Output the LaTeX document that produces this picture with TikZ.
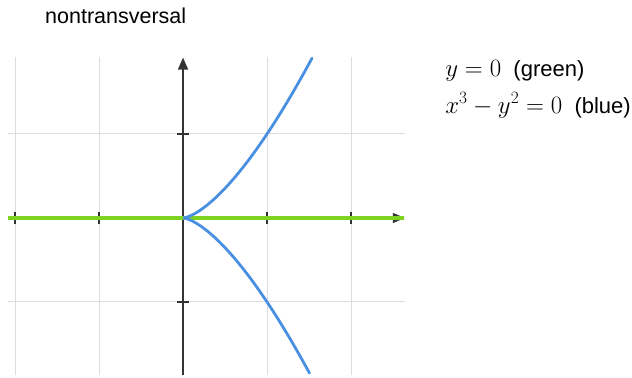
\documentclass[tikz,border=0pt]{standalone}
\usepackage{fontspec}
\setmainfont{Liberation Sans}
\usepackage{amsmath}
\usetikzlibrary{arrows.meta}
\definecolor{gridc}{RGB}{221,221,221}
\definecolor{axisc}{RGB}{51,51,51}
\definecolor{cuspc}{RGB}{74,144,226}
\definecolor{linec}{RGB}{126,211,33}
\newcommand{\eqmath}[1]{{\fontsize{24}{29}\selectfont$#1$}}
\tikzset{
  gridline/.style = {draw=gridc, line width=1pt},
  axis/.style     = {draw=axisc, line width=1.5pt, -{Triangle[length=12pt, width=10pt]}},
  tick/.style     = {draw=axisc, line width=1.5pt},
  cusp/.style     = {draw=cuspc, line width=2.8pt, line cap=round},
  flat/.style     = {draw=linec, line width=3.5pt},
  ttl/.style      = {font=\fontsize{21.5}{26}\selectfont, inner sep=0pt},
  lbl/.style      = {font=\fontsize{22}{27}\selectfont, inner sep=0pt},
}
\begin{document}
\begin{tikzpicture}[x=84pt, y=84pt]
\useasboundingbox (-2.179,-1.905) rectangle (5.345,2.595);

% grid, one unit = one cell
\foreach \gx in {-2,-1,1,2}
  \draw[gridline] (\gx,-1.87) -- (\gx,1.92);
\foreach \gy in {-1,1}
  \draw[gridline] (-2.08,\gy) -- (2.64,\gy);

% axes and ticks
\draw[axis] (0,-1.87) -- (0,1.91);
\draw[axis] (-2.08,0) -- (2.64,0);
\foreach \gx in {-2,-1,1,2}
  \draw[tick] (\gx,-0.07) -- (\gx,0.07);
\foreach \gy in {-1,1}
  \draw[tick] (-0.07,\gy) -- (0.07,\gy);

% the two curves
\draw[flat] (-2.08,0) -- (2.63,0);
\draw[cusp] plot[domain=-1.227:1.24, samples=120, smooth, variable=\t] ({\t*\t},{\t*\t*\t});

% texts
\node[ttl, anchor=base west] (title) at (-1.643,2.321) {nontransversal};
\node[lbl, anchor=base west] (eqg) at (3.12,1.69) {\eqmath{y=0}~~(green)};
\node[lbl, anchor=base west] (eqb) at ([yshift=-37pt]eqg.base west) {\eqmath{x^3-y^2=0}~~(blue)};

\end{tikzpicture}
\end{document}
